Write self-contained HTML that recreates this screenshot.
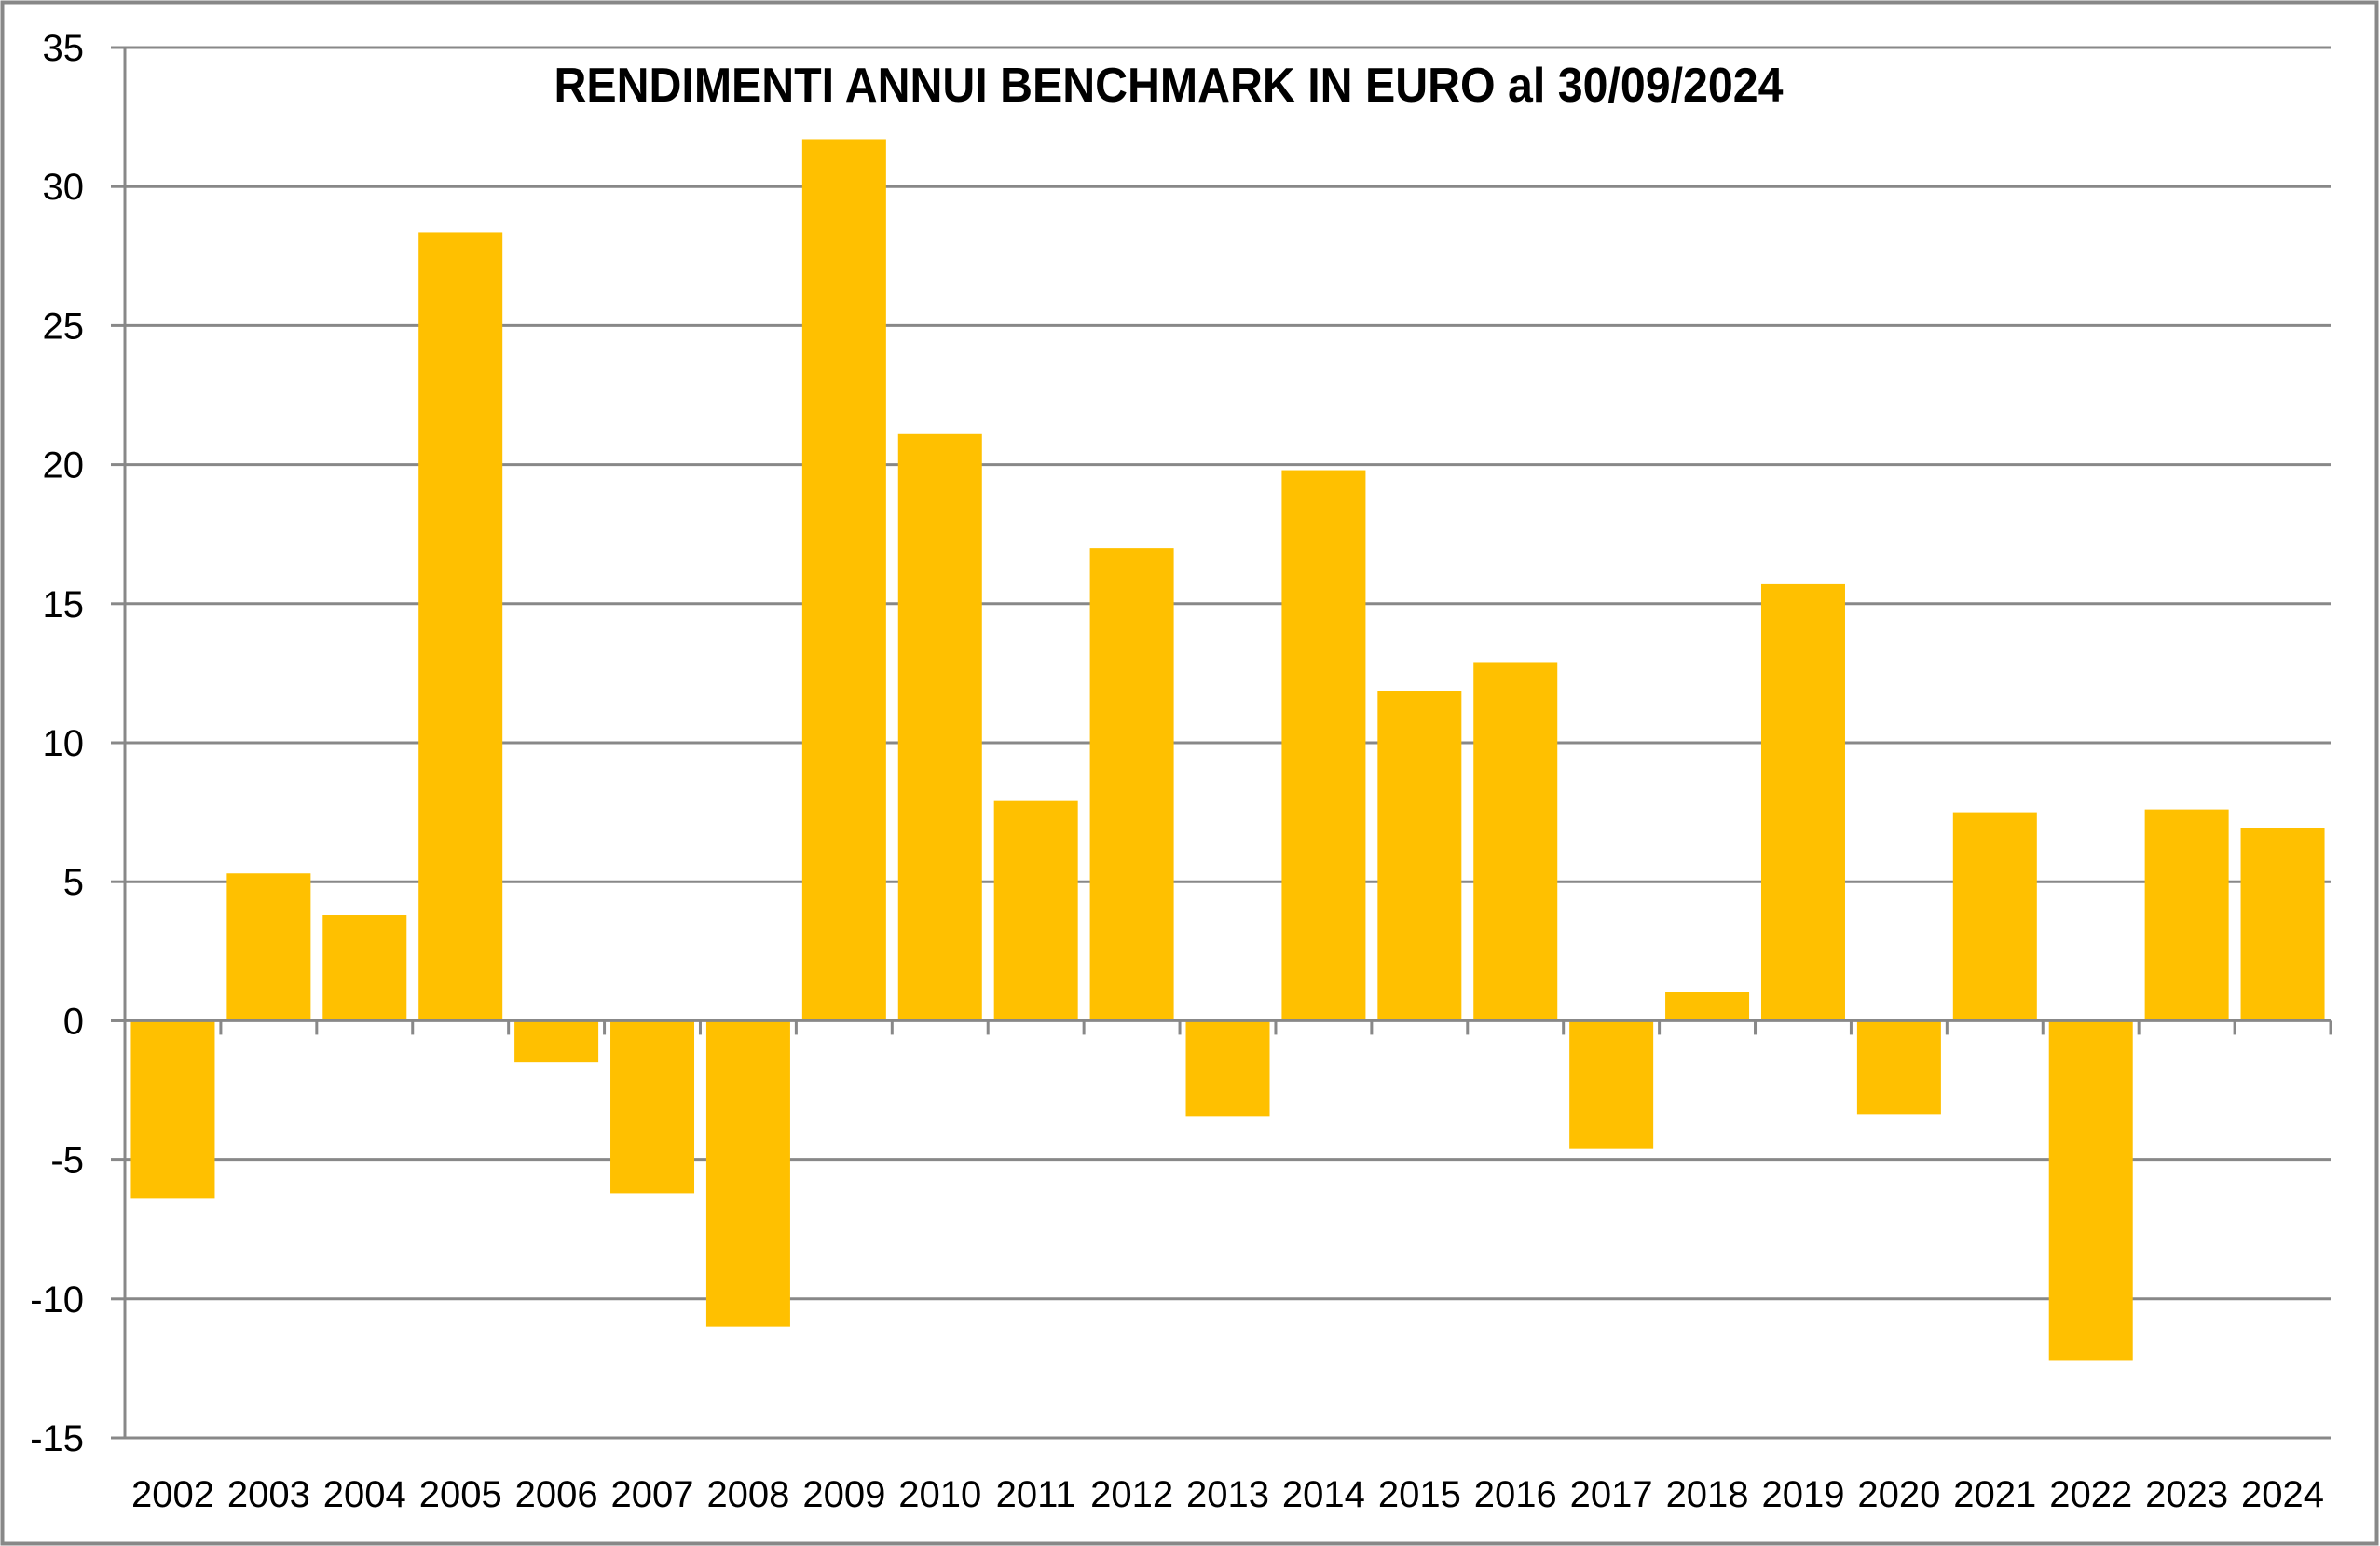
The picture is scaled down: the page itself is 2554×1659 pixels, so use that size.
<!DOCTYPE html>
<html><head><meta charset="utf-8"><style>
html,body{margin:0;padding:0;background:#fff;}
svg{display:block;}
text{font-family:"Liberation Sans",sans-serif;fill:#000;}
</style></head>
<body>
<svg id="chart" width="2554" height="1659" viewBox="0 0 2554 1659" xmlns="http://www.w3.org/2000/svg">
<rect x="2.5" y="2.5" width="2548" height="1654" fill="#fff" stroke="#888" stroke-width="4"/>
<text x="1254" y="109" text-anchor="middle" font-size="52" font-weight="bold" textLength="1319" lengthAdjust="spacingAndGlyphs">RENDIMENTI ANNUI BENCHMARK IN EURO al 30/09/2024</text>
<g id="grid"></g>
<g id="bars"></g>
<g id="axes"></g>
</svg>
<script>
const categories = ["2002","2003","2004","2005","2006","2007","2008","2009","2010","2011","2012","2013","2014","2015","2016","2017","2018","2019","2020","2021","2022","2023","2024"];
const values = [-6.4,5.3,3.8,28.35,-1.5,-6.2,-11.0,31.7,21.1,7.9,17.0,-3.45,19.8,11.85,12.9,-4.6,1.05,15.7,-3.35,7.5,-12.2,7.6,6.95];
const yTicks = [35,30,25,20,15,10,5,0,-5,-10,-15];

const NS = "http://www.w3.org/2000/svg";
const plotLeft = 134, plotRight = 2501, plotTop = 51, plotBottom = 1543;
const yMin = -15, yMax = 35;
function yScale(v){ return plotTop + (yMax - v) / (yMax - yMin) * (plotBottom - plotTop); }
const band = (plotRight - plotLeft) / categories.length;
function xScale(i){ return plotLeft + i * band; }
const barW = 90;

function mk(tag, attrs, parent){
  const e = document.createElementNS(NS, tag);
  for (const k in attrs) e.setAttribute(k, attrs[k]);
  parent.appendChild(e);
  return e;
}
const gridG = document.getElementById('grid');
const barsG = document.getElementById('bars');
const axesG = document.getElementById('axes');

yTicks.forEach(t => {
  const yy = yScale(t);
  if (t !== 0) {
    const l = mk('line', {x1:plotLeft, x2:plotRight, y1:yy, y2:yy, stroke:'#888', 'stroke-width':3}, gridG);
    
    
  }
  const tk = mk('line', {x1:plotLeft-15, x2:plotLeft, y1:yy, y2:yy, stroke:'#888', 'stroke-width':3}, axesG);
  
  
  const tx = mk('text', {x:90, y:yy+14, 'text-anchor':'end', 'font-size':40}, axesG);
  tx.textContent = String(t);
  
  
});

values.forEach((v, i) => {
  const y0 = yScale(0), yv = yScale(v);
  const r = mk('rect', {x: xScale(i) + (band - barW)/2, y: Math.min(y0, yv), width: barW, height: Math.abs(yv - y0), fill:'#FFC000'}, barsG);
  
  
});

const ya = mk('line', {x1:plotLeft, x2:plotLeft, y1:plotTop, y2:plotBottom, stroke:'#888', 'stroke-width':3}, axesG);


const xa = mk('line', {x1:plotLeft-15, x2:plotRight, y1:yScale(0), y2:yScale(0), stroke:'#888', 'stroke-width':3}, axesG);



for (let i = 1; i <= categories.length; i++) {
  const t = mk('line', {x1:xScale(i), x2:xScale(i), y1:yScale(0), y2:yScale(0)+15, stroke:'#888', 'stroke-width':3}, axesG);
  
  
}
categories.forEach((c, i) => {
  const t = mk('text', {x: xScale(i) + band/2, y: 1617, 'text-anchor':'middle', 'font-size':40}, axesG);
  t.textContent = c;
  
  
});
</script>
</body></html>
